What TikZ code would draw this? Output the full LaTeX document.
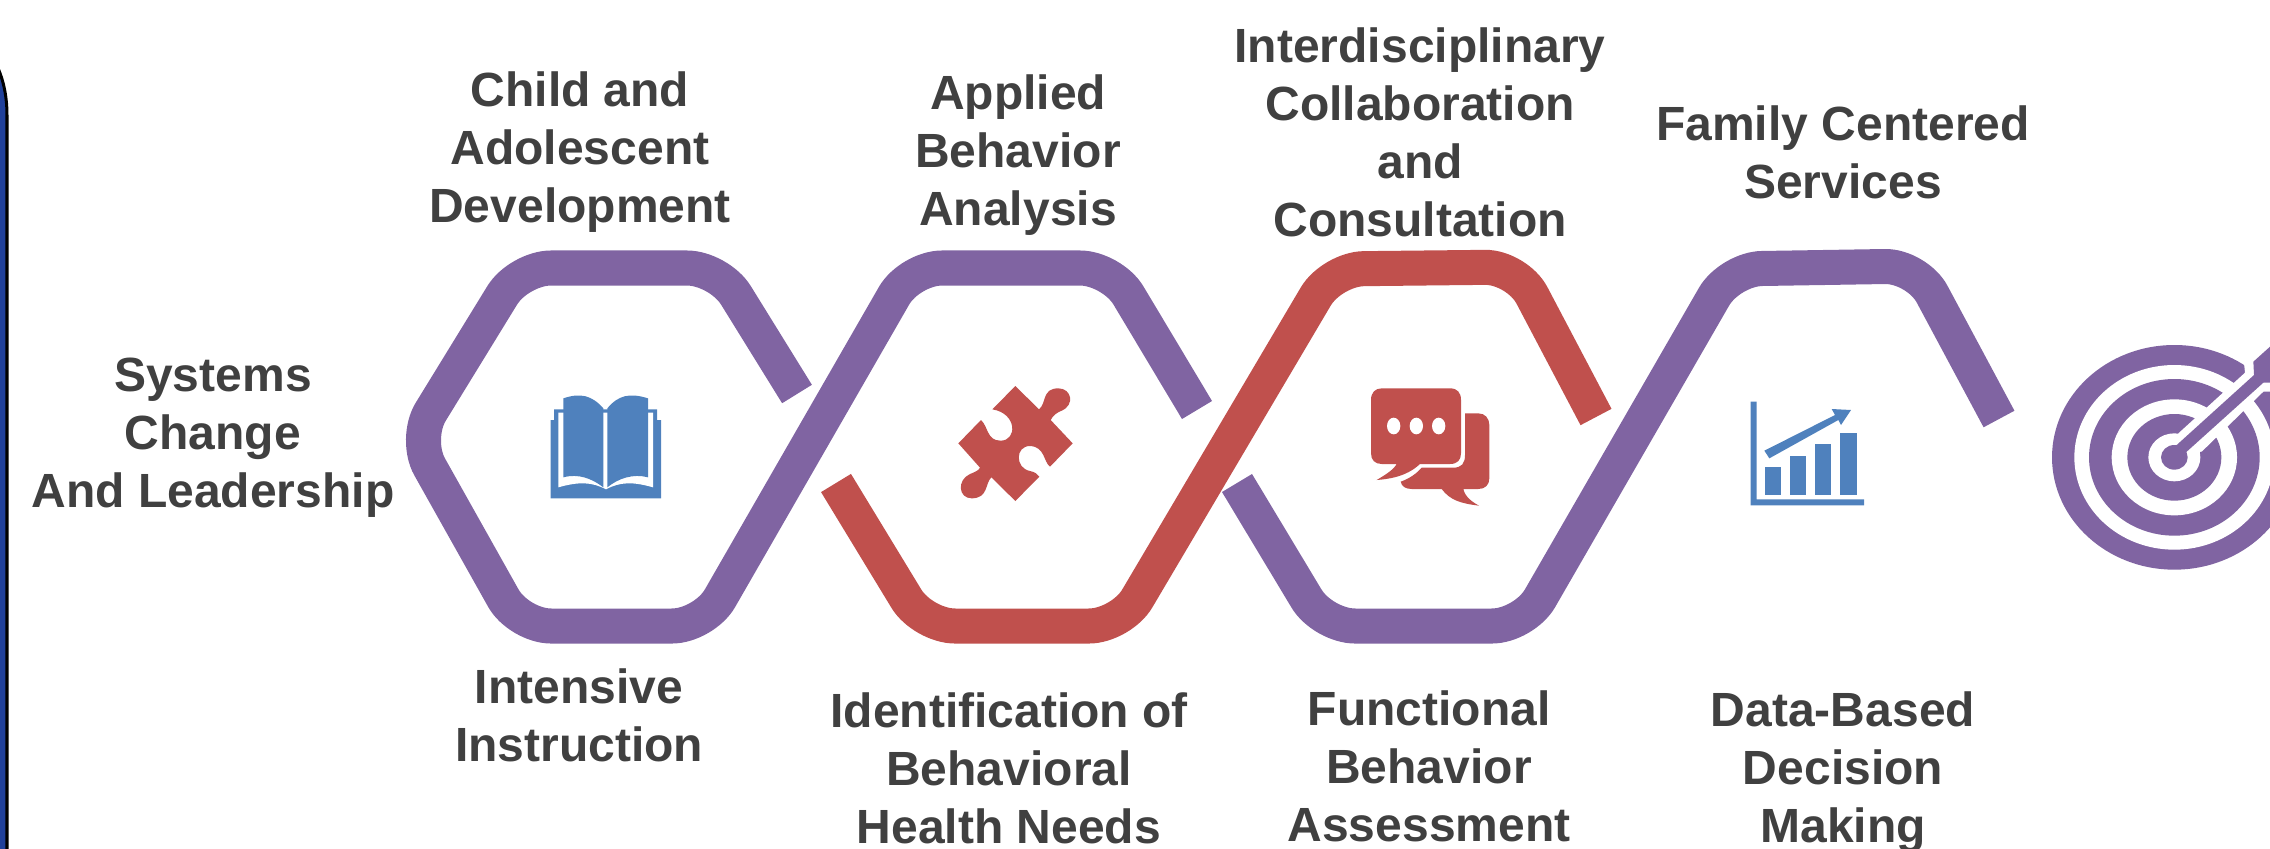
\documentclass[tikz,border=0pt]{standalone}
\usepackage{fontspec}
\setmainfont{Liberation Sans}
\definecolor{bandpurple}{HTML}{8064A2}
\definecolor{bandred}{HTML}{C0504D}
\definecolor{iconblue}{HTML}{4F81BD}
\definecolor{labelgray}{HTML}{404040}
\definecolor{panelblue}{HTML}{20409A}
\begin{document}
\begin{tikzpicture}[x=0.01cm,y=-0.01cm,
		band/.style={line width=0.35cm,rounded corners=0.32cm},
		label/.style={align=center,inner sep=0pt,text=labelgray,font=\fontsize{13.65}{16.5}\selectfont\bfseries}]
	\useasboundingbox (0,0) rectangle (2270,848);
	\clip (0,0) rectangle (2270,848);
	% side panel
	\draw[fill=panelblue,line width=0.03cm] (-60,30) .. controls (-10,30) and (7,75) .. (7,115) -- (7,900) -- (-60,900) -- cycle;
	% bands
	\draw[band,color=bandpurple] (797,394) -- (719,268) -- (519,268) -- (414,439) -- (519,626) -- (704,626) -- (910,268) -- (1112,268) -- (1197,410);
	\draw[band,color=bandred] (836,483) -- (923,626) -- (1121,626) -- (1332,269) -- (1517,267) -- (1596,417);
	\draw[band,color=bandpurple] (1237,483) -- (1323,626) -- (1524,626) -- (1730,269) -- (1917,266) -- (1999,419);
	% labels
	\node[label] (child) at (580,152) {Child and\\Adolescent\\Development};
	\node[label] (applied) at (1018,155) {Applied\\Behavior\\Analysis};
	\node[label] (inter) at (1420,132) {Interdisciplinary\\Collaboration\\and\\Consultation};
	\node[label] (family) at (1843,152) {Family Centered\\Services};
	\node[label] (systems) at (213,438) {Systems\\Change\\And Leadership};
	\node[label] (intensive) at (579,715) {Intensive\\Instruction};
	\node[label] (ident) at (1009,768) {Identification of\\Behavioral\\Health Needs};
	\node[label] (func) at (1429,766) {Functional\\Behavior\\Assessment};
	\node[label] (data) at (1843,772) {Data-Based\\Decision\\Making};
	% book
	\begin{scope}[shift={(520,370)},scale=1/3]
		\fill[iconblue] (92,385) -- (92,150) -- (102,150) -- (102,118) -- (411,118) -- (411,150) -- (423,150) -- (423,385) -- cycle;
		\fill[white] (115,352) -- (115,128) -- (399,128) -- (399,352) .. controls (340,335) and (300,335) .. (258,358) .. controls (215,335) and (175,335) .. (115,352) -- cycle;
		\fill[iconblue] (130,322) -- (130,85) .. controls (180,68) and (215,75) .. (250,115) -- (250,352) .. controls (215,325) and (175,310) .. (130,322) -- cycle;
		\fill[iconblue] (384,322) -- (384,85) .. controls (330,68) and (295,75) .. (262,115) -- (262,352) .. controls (295,325) and (340,310) .. (384,322) -- cycle;
	\end{scope}
	% puzzle piece
	\begin{scope}[shift={(930,370)},scale=1/3]
		\fill[bandred] (256,48) -- (327,118) .. controls (350,100) and (335,55) .. (385,55) .. controls (425,55) and (435,105) .. (395,122) .. controls (380,128) and (370,135) .. (362,150) -- (428,220) -- (360,290) .. controls (340,275) and (345,230) .. (300,228) .. controls (255,228) and (255,295) .. (300,303) .. controls (315,306) and (322,312) .. (328,320) -- (256,393) -- (184,322) .. controls (165,340) and (175,385) .. (125,385) .. controls (85,385) and (80,330) .. (120,312) .. controls (135,306) and (145,302) .. (150,293) -- (85,220) -- (153,150) .. controls (175,170) and (170,212) .. (212,212) .. controls (262,212) and (262,130) .. (187,118) -- cycle;
	\end{scope}
	% chat bubbles
	\begin{scope}[shift={(1350,370)},scale=1/3]
		\fill[bandred] (345,130) -- (385,130) .. controls (405,130) and (418,145) .. (418,165) -- (418,325) .. controls (418,345) and (405,357) .. (385,357) -- (340,357) .. controls (345,380) and (365,395) .. (387,407) .. controls (330,400) and (300,390) .. (275,357) -- (185,357) .. controls (165,357) and (155,348) .. (152,335) .. controls (180,325) and (200,310) .. (215,293) -- (310,293) .. controls (335,293) and (345,280) .. (345,255) -- cycle;
		\fill[bandred] (95,55) -- (300,55) .. controls (322,55) and (333,68) .. (333,90) -- (333,250) .. controls (333,270) and (322,282) .. (300,282) -- (210,282) .. controls (185,305) and (150,325) .. (80,330) .. controls (105,315) and (130,300) .. (140,282) -- (95,282) .. controls (75,282) and (63,270) .. (63,250) -- (63,90) .. controls (63,68) and (75,55) .. (95,55) -- cycle;
		\foreach \dotx in {131,199,266}
		{
			\fill[white] (\dotx,168) ellipse [x radius=20,y radius=25];
		}
	\end{scope}
	% chart
	\begin{scope}[shift={(1730,380)},scale=1/3]
		\fill[iconblue] (62,65) -- (80,65) -- (80,358) -- (402,358) -- (402,376) -- (62,376) -- cycle;
		\foreach \barx/\bary in {104/262,180/228,255/193,331/158}
		{
			\fill[iconblue] (\barx,\bary) rectangle ({\barx+49},345);
		}
		\fill[iconblue] (103,212) -- (315,105) -- (305,87) -- (363,90) -- (333,135) -- (325,120) -- (118,235) -- cycle;
	\end{scope}
	% target
	\begin{scope}[shift={(2030,320)},scale=1/3]
		\foreach \rx/\ry/\ringcol in {367/337/bandpurple,300/277/white,256/235/bandpurple,188/174/white,141/130/bandpurple,78/72/white}
		{
			\fill[\ringcol] (433,412) ellipse [x radius=\rx,y radius=\ry];
		}
		\fill[white] (445,340) -- (645,158) -- (642,130) -- (672,122) -- (760,60) -- (760,215) -- (700,215) -- (515,395) -- (440,400) -- cycle;
		\fill[bandpurple] (433,412) ellipse [x radius=40,y radius=37];
		\fill[bandpurple] (440,375) -- (672,165) -- (670,125) -- (720,80) -- (760,60) -- (760,188) -- (700,188) -- (470,395) -- (440,410) -- cycle;
	\end{scope}
\end{tikzpicture}
\end{document}
